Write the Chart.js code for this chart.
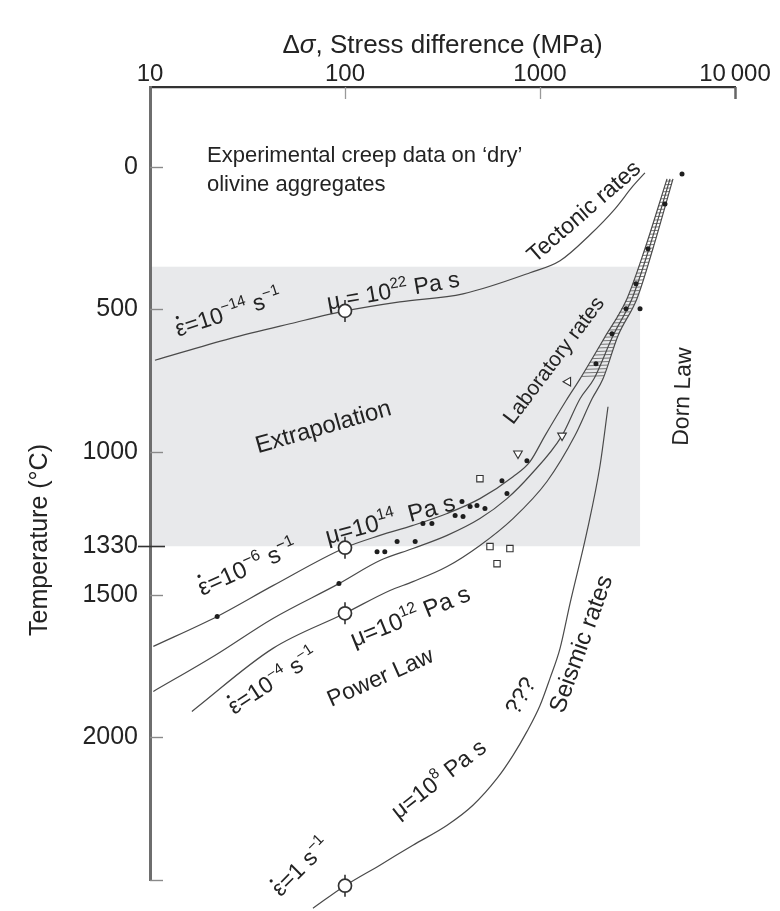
<!DOCTYPE html>
<html>
<head>
<meta charset="utf-8">
<script src="https://cdn.jsdelivr.net/npm/chart.js@4.4.1/dist/chart.umd.min.js"></script>
<style>
  html, body { margin: 0; padding: 0; background: #ffffff; }
  canvas { display: block; }
</style>
</head>
<body>
<canvas id="chart" width="780" height="911"></canvas>
<script>
// ---------------- DATA (stress in MPa, temperature in °C) ----------------
const xTickValues = [10, 100, 1000, 10000];
const xTickLabels = ['10', '100', '1000', '10\u2009000'];
const yTickValues = [0, 500, 1000, 1330, 1500, 2000, 2500];
const yTickLabels = ['0', '500', '1000', '1330', '1500', '2000', ''];

// strain rate 1e-14 /s  (tectonic rates)
const tectonicStress = [10.6, 25.7, 52.2, 100, 191, 403, 889, 1267, 1805, 2425, 3000, 3452];
const tectonicTemp   = [678, 602, 550, 505, 473, 445, 371, 329, 238, 147, 67, 21];

// strain rate 1e-6 /s
const rate6Stress = [10.4, 22.1, 42.7, 100, 151, 223, 334, 492, 727, 889, 1061, 1359, 1604, 2128, 2793, 3452, 4481];
const rate6Temp   = [1681, 1576, 1468, 1335, 1292, 1257, 1215, 1163, 1086, 1033, 942, 820, 743, 602, 462, 287, 42];

// intermediate strain rate curve
const rate5Stress = [10.4, 21.5, 42.7, 93.1, 151, 223, 334, 492, 677, 889, 1297, 1604, 1892, 2367, 2964, 3623, 4642];
const rate5Temp   = [1839, 1713, 1583, 1461, 1380, 1338, 1292, 1233, 1163, 1082, 942, 813, 743, 592, 462, 287, 42];

// strain rate 1e-4 /s
const rate4Stress = [16.4, 42.7, 100, 170, 223, 334, 492, 727, 1086, 1511, 1849, 2104, 2512, 3141, 3793, 4808];
const rate4Temp   = [1909, 1688, 1565, 1485, 1454, 1401, 1327, 1233, 1103, 942, 813, 743, 592, 462, 287, 42];

// strain rate 1 /s (seismic rates)
const seismicStress = [68.5, 100, 151, 223, 334, 453, 602, 727, 858, 1000, 1125, 1267, 1425, 1742, 2032, 2232];
const seismicTemp   = [2599, 2520, 2448, 2378, 2308, 2238, 2144, 2063, 1979, 1888, 1793, 1688, 1531, 1278, 1047, 841];

// experimental points
const dotStress = [22.1, 93.1, 146, 160, 185, 229, 251, 279, 367, 403, 398, 438, 475, 522, 638, 677, 857,
                   5350, 4375, 3580, 3107, 3258, 2762, 2339, 1936];
const dotTemp   = [1576, 1461, 1349, 1349, 1313, 1313, 1250, 1250, 1222, 1226, 1173, 1191, 1187, 1198, 1100, 1145, 1030,
                   25, 130, 287, 410, 497, 497, 585, 690];
const squareStress = [492, 554, 701, 602];
const squareTemp   = [1093, 1331, 1338, 1391];
const triDownStress = [771, 1297];
const triDownTemp   = [1005, 942];
const triLeftStress = [1393];
const triLeftTemp   = [753];
const viscStress = [100, 100, 100, 100];
const viscTemp   = [505, 1335, 1565, 2520];

// extrapolation region
const shadeStress = [10, 3260];
const shadeTemp   = [350, 1330];
// Dorn-law band starts where the curves reach this temperature
const dornBandTemp = 750;

// ---------------- helpers ----------------
const FONT = '"Liberation Sans", Arial, Helvetica, sans-serif';
const TEXT = '#232323';
const LINE = '#4a4a4a';
const pts = (xs, ys) => xs.map((v, i) => ({ x: v, y: ys[i] }));

// annotation labels (positions in data units)
const notes = [
  { x: 19.6, y: -46, rot: 0, size: 22, align: 'left', parts: ['Experimental creep data on \u2018dry\u2019'] },
  { x: 19.6, y: 56, rot: 0, size: 22, align: 'left', parts: ['olivine aggregates'] },
  { x: 1663, y: 154, rot: -41, size: 23, parts: ['Tectonic rates'] },
  { x: 25.1, y: 508, rot: -18, size: 23, parts: [{ edot: true }, '=10', { sup: '\u221214' }, ' s', { sup: '\u22121' }] },
  { x: 176, y: 431, rot: -10, size: 23, parts: ['\u03bc = 10', { sup: '22' }, ' Pa s'] },
  { x: 77, y: 907, rot: -16, size: 24, parts: ['Extrapolation'] },
  { x: 1167, y: 676, rot: -53, size: 21, parts: ['Laboratory rates'] },
  { x: 5300, y: 805, rot: -88, size: 23, parts: ['Dorn Law'] },
  { x: 31.4, y: 1401, rot: -24, size: 24, parts: [{ edot: true }, '=10', { sup: '\u22126' }, ' s', { sup: '\u22121' }] },
  { x: 170, y: 1233, rot: -15, size: 24, parts: ['\u03bc=10', { sup: '14' }, '  Pa s'] },
  { x: 215, y: 1573, rot: -22, size: 24, parts: ['\u03bc=10', { sup: '12' }, ' Pa s'] },
  { x: 42.3, y: 1800, rot: -33, size: 23, parts: [{ edot: true }, '=10', { sup: '\u22124' }, ' s', { sup: '\u22121' }] },
  { x: 151, y: 1786, rot: -24, size: 23, parts: ['Power Law'] },
  { x: 300, y: 2144, rot: -38, size: 23, parts: ['\u03bc=10', { sup: '8' }, ' Pa s'] },
  { x: 789, y: 1853, rot: -60, size: 23, parts: ['???'] },
  { x: 1603, y: 1671, rot: -70, size: 24, parts: ['Seismic rates'] },
  { x: 58.8, y: 2452, rot: -45, size: 23, parts: [{ edot: true }, '=1 s', { sup: '\u22121' }] }
];

function drawRich(ctx, parts, px, py, rot, size, align) {
  ctx.save();
  ctx.translate(px, py);
  ctx.rotate(rot * Math.PI / 180);
  const items = parts.map(p => {
    let text, sup = false, dot = false, ital = false;
    if (typeof p === 'string') text = p;
    else if (p.sup !== undefined) { text = p.sup; sup = true; }
    else if (p.it !== undefined) { text = p.it; ital = true; }
    else { text = '\u03b5'; dot = true; }
    const fs = sup ? size * 0.66 : size;
    const font = (ital ? 'italic ' : '') + fs + 'px ' + FONT;
    ctx.font = font;
    return { text, sup, dot, font, w: ctx.measureText(text).width };
  });
  const total = items.reduce((s, it) => s + it.w, 0);
  let cx = align === 'left' ? 0 : -total / 2;
  const base = size * 0.36;
  ctx.fillStyle = TEXT;
  ctx.textAlign = 'left';
  ctx.textBaseline = 'alphabetic';
  for (const it of items) {
    ctx.font = it.font;
    ctx.fillText(it.text, cx, it.sup ? base - size * 0.42 : base);
    if (it.dot) {
      ctx.beginPath();
      ctx.arc(cx + it.w * 0.5, base - size * 0.8, size * 0.07, 0, Math.PI * 2);
      ctx.fill();
    }
    cx += it.w;
  }
  ctx.restore();
}

const figurePlugin = {
  id: 'figure',
  beforeDraw(chart) {
    const { ctx } = chart;
    const x = chart.scales.x, y = chart.scales.y;
    const x0 = x.getPixelForValue(shadeStress[0]), x1 = x.getPixelForValue(shadeStress[1]);
    const y0 = y.getPixelForValue(shadeTemp[0]), y1 = y.getPixelForValue(shadeTemp[1]);
    ctx.save();
    ctx.fillStyle = '#e8e9eb';
    ctx.fillRect(x0, y0, x1 - x0, y1 - y0);
    ctx.restore();
  },
  beforeDatasetsDraw(chart) {
    // hatched Dorn-law band between the upper parts of the outer curves
    const { ctx } = chart;
    const x = chart.scales.x, y = chart.scales.y;
    const left = pts(rate6Stress, rate6Temp).filter(p => p.y <= dornBandTemp);
    const right = pts(rate4Stress, rate4Temp).filter(p => p.y <= dornBandTemp);
    const poly = left.concat(right.slice().reverse())
      .map(p => [x.getPixelForValue(p.x), y.getPixelForValue(p.y)]);
    ctx.save();
    ctx.beginPath();
    poly.forEach(([px, py], i) => i ? ctx.lineTo(px, py) : ctx.moveTo(px, py));
    ctx.closePath();
    ctx.clip();
    ctx.strokeStyle = '#777';
    ctx.lineWidth = 1;
    const ys = poly.map(p => p[1]);
    const top = Math.min(...ys), bot = Math.max(...ys);
    for (let py = top; py <= bot; py += 3.5) {
      ctx.beginPath();
      ctx.moveTo(540, py + 3);
      ctx.lineTo(720, py - 3);
      ctx.stroke();
    }
    ctx.restore();
  },
  afterDraw(chart) {
    const { ctx } = chart;
    const x = chart.scales.x, y = chart.scales.y;
    const area = chart.chartArea;
    ctx.save();
    // y ticks (inside)
    yTickValues.forEach(v => {
      const py = Math.round(y.getPixelForValue(v)) + 0.5;
      ctx.beginPath();
      if (v === 1330) {
        ctx.strokeStyle = '#333'; ctx.lineWidth = 1.6;
        ctx.moveTo(area.left - 12, py); ctx.lineTo(area.left + 15, py);
      } else {
        ctx.strokeStyle = '#8a8a8a'; ctx.lineWidth = 1.4;
        ctx.moveTo(area.left, py); ctx.lineTo(area.left + 13, py);
      }
      ctx.stroke();
    });
    // x ticks (inside, pointing down)
    xTickValues.slice(1).forEach((v, i, arr) => {
      const px = Math.round(x.getPixelForValue(v)) + 0.5;
      ctx.beginPath();
      ctx.strokeStyle = i === arr.length - 1 ? '#666' : '#999';
      ctx.lineWidth = i === arr.length - 1 ? 2.5 : 1.3;
      ctx.moveTo(px, area.top);
      ctx.lineTo(px, area.top + 12);
      ctx.stroke();
    });
    // y axis title
    ctx.translate(40, 540);
    ctx.rotate(-Math.PI / 2);
    ctx.font = '25px ' + FONT;
    ctx.fillStyle = TEXT;
    ctx.textAlign = 'center';
    ctx.textBaseline = 'middle';
    ctx.fillText('Temperature (\u00b0C)', 0, 0);
    ctx.restore();
    // x axis title (italic sigma)
    drawRich(ctx, ['\u0394', { it: '\u03c3' }, ', Stress difference (MPa)'],
             (area.left + area.right) / 2, 44, 0, 26);
    // annotations
    notes.forEach(n => drawRich(ctx, n.parts, x.getPixelForValue(n.x), y.getPixelForValue(n.y), n.rot, n.size, n.align));
  }
};

const lineStyle = {
  type: 'line', borderColor: LINE, borderWidth: 1.2, pointRadius: 0,
  cubicInterpolationMode: 'monotone', fill: false, clip: false, order: 5
};

const data = {
  datasets: [
    { ...lineStyle, label: 'tectonic', data: pts(tectonicStress, tectonicTemp) },
    { ...lineStyle, label: '1e-6', data: pts(rate6Stress, rate6Temp) },
    { ...lineStyle, label: 'mid', data: pts(rate5Stress, rate5Temp) },
    { ...lineStyle, label: '1e-4', data: pts(rate4Stress, rate4Temp) },
    { ...lineStyle, label: 'seismic', data: pts(seismicStress, seismicTemp) },
    { type: 'scatter', label: 'dots', data: pts(dotStress, dotTemp), pointStyle: 'circle', pointRadius: 2.5,
      backgroundColor: '#1e1e1e', borderWidth: 0, order: 3 },
    { type: 'scatter', label: 'squares', data: pts(squareStress, squareTemp), pointStyle: 'rect', pointRadius: 4.5,
      backgroundColor: '#ffffff', borderColor: '#333', borderWidth: 1.1, order: 3 },
    { type: 'scatter', label: 'triDown', data: pts(triDownStress, triDownTemp), pointStyle: 'triangle', rotation: 180,
      pointRadius: 5, backgroundColor: '#ffffff', borderColor: '#333', borderWidth: 1.1, order: 3 },
    { type: 'scatter', label: 'triLeft', data: pts(triLeftStress, triLeftTemp), pointStyle: 'triangle', rotation: 270,
      pointRadius: 5, backgroundColor: '#ffffff', borderColor: '#333', borderWidth: 1.1, order: 3 },
    { type: 'scatter', label: 'viscStem', data: pts(viscStress, viscTemp), pointStyle: 'line', rotation: 90,
      pointRadius: 11, borderColor: '#333', borderWidth: 1.6, clip: false, order: 2 },
    { type: 'scatter', label: 'visc', data: pts(viscStress, viscTemp), pointStyle: 'circle', pointRadius: 6.5,
      backgroundColor: '#ffffff', borderColor: '#333', borderWidth: 1.7, clip: false, order: 1 }
  ]
};

new Chart(document.getElementById('chart'), {
  data,
  options: {
    responsive: false,
    animation: false,
    devicePixelRatio: 1,
    events: [],
    layout: { padding: { left: 0, right: 45, top: 0, bottom: 31 } },
    plugins: { legend: { display: false }, tooltip: { enabled: false } },
    scales: {
      x: {
        type: 'logarithmic', position: 'top', min: 10, max: 10000,
        afterBuildTicks: s => { s.ticks = xTickValues.map(v => ({ value: v })); },
        afterFit: s => { s.height = 87; },
        grid: { display: false, drawTicks: false },
        border: { display: true, color: '#333', width: 2.2 },
        ticks: { autoSkip: false, maxRotation: 0, padding: 1, color: TEXT,
                 font: { family: FONT, size: 24, lineHeight: 1 }, callback: (v, i) => xTickLabels[i] },
        title: { display: false }
      },
      y: {
        type: 'linear', reverse: true, min: -280, max: 2500,
        afterBuildTicks: s => { s.ticks = yTickValues.map(v => ({ value: v })); },
        afterFit: s => { s.width = 150; },
        grid: { display: false, drawTicks: false },
        border: { display: true, color: '#6e6e6e', width: 3 },
        ticks: { autoSkip: false, padding: 12, color: TEXT,
                 font: { family: FONT, size: 25, lineHeight: 1 }, callback: (v, i) => yTickLabels[i] }
      }
    }
  },
  plugins: [figurePlugin]
});
</script>
</body>
</html>
